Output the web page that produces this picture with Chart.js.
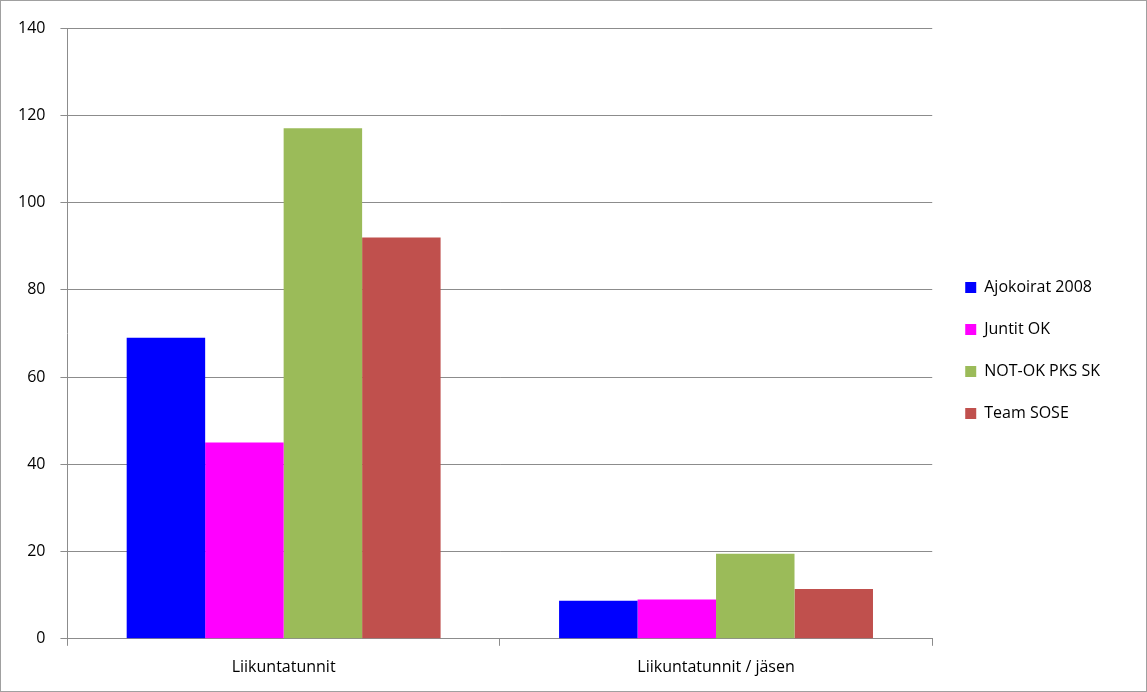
<!DOCTYPE html>
<html lang="fi">
<head>
  <meta charset="UTF-8">
  <title>Liikuntatunnit</title>
  <script src="https://cdn.jsdelivr.net/npm/chart.js"></script>
  <style>
    html, body { margin: 0; padding: 0; background: #fff; }
    .frame {
      width: 1147px; height: 692px;
      box-sizing: border-box;
      border: 1px solid #a0a0a0;
      position: relative;
    }
    #chart { display: block; }
  </style>
</head>
<body>
  <div class="frame">
    <canvas id="chart" width="1145" height="690"></canvas>
  </div>

  <script>
    // data
    const categories = ['Liikuntatunnit', 'Liikuntatunnit / jäsen'];
    const ajokoirat = [69, 8.7];
    const juntit = [45, 9.0];
    const notok = [117, 19.5];
    const sose = [92, 11.4];
    const yTicks = [0, 20, 40, 60, 80, 100, 120, 140];

    const gray = '#8c8c8c';
    const font = { family: '"Open Sans", sans-serif', size: 16 };

    // nudge the legend box a little after layout
    const legendNudge = {
      id: 'legendNudge',
      afterLayout(chart) {
        const lg = chart.legend;
        if (!lg) return;
        lg.left += 7; lg.right += 7;
        lg.top -= 8; lg.bottom -= 8;
      }
    };

    new Chart(document.getElementById('chart'), {
      type: 'bar',
      data: {
        labels: categories,
        datasets: [
          { label: 'Ajokoirat 2008', data: ajokoirat, backgroundColor: '#0000ff' },
          { label: 'Juntit OK', data: juntit, backgroundColor: '#ff00ff' },
          { label: 'NOT-OK PKS SK', data: notok, backgroundColor: '#9bbb59' },
          { label: 'Team SOSE', data: sose, backgroundColor: '#c0504d' }
        ]
      },
      options: {
        responsive: false,
        animation: false,
        layout: { padding: { left: 2, top: 27, right: 43, bottom: 2 } },
        datasets: { bar: { barPercentage: 1, categoryPercentage: 0.726 } },
        scales: {
          x: {
            grid: { drawOnChartArea: false, drawTicks: true, tickLength: 7, color: gray },
            border: { color: gray, width: 1 },
            ticks: { color: '#000', font: font, padding: 12 }
          },
          y: {
            min: 0, max: 140,
            afterBuildTicks: (axis) => { axis.ticks = yTicks.map(v => ({ value: v })); },
            grid: { color: gray, tickLength: 7 },
            border: { color: gray, width: 1 },
            ticks: { color: '#000', font: font, padding: 15 }
          }
        },
        plugins: {
          legend: {
            position: 'right',
            labels: {
              color: '#000', font: font,
              boxWidth: 11, boxHeight: 11,
              padding: 26
            }
          },
          tooltip: { enabled: false }
        }
      },
      plugins: [legendNudge]
    });
  </script>
</body>
</html>
